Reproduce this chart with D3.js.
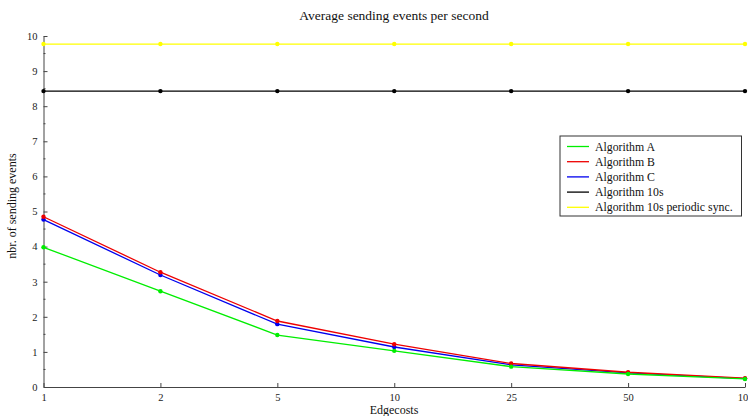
<!DOCTYPE html>
<html>
  <head>
    <meta charset="utf-8">
    <title>Average sending events per second</title>
    <script src="https://d3js.org/d3.v7.min.js"></script>
    <style>
      body { margin: 0; background: #fff; }
      svg, svg text { font-family: "Liberation Serif", "Times New Roman", serif; }
      .axis text { font-size: 10.5px; fill: #222; }
      .axis path, .axis line { stroke: #444; }
    </style>
  </head>
  <body>
    <svg id="chart" width="748" height="416"></svg>
    <script>
      // data
      edgecosts = ["1", "2", "5", "10", "25", "50", "100"];
      algA = [3.98, 2.73, 1.48, 1.03, 0.58, 0.37, 0.23];
      algB = [4.85, 3.27, 1.88, 1.22, 0.67, 0.42, 0.25];
      algC = [4.77, 3.19, 1.79, 1.14, 0.63, 0.40, 0.24];
      alg10s = [8.43, 8.43, 8.43, 8.43, 8.43, 8.43, 8.43];
      alg10sSync = [9.77, 9.77, 9.77, 9.77, 9.77, 9.77, 9.77];
      yTicks = [0, 1, 2, 3, 4, 5, 6, 7, 8, 9, 10];

      series = [
        { name: "Algorithm A", values: algA, color: "#00ee00" },
        { name: "Algorithm B", values: algB, color: "#ee0000" },
        { name: "Algorithm C", values: algC, color: "#0000ee" },
        { name: "Algorithm 10s", values: alg10s, color: "#000000" },
        { name: "Algorithm 10s periodic sync.", values: alg10sSync, color: "#ffff00" }
      ];

      chart = d3.select("#chart");
      margin = { top: 36, right: 3, bottom: 29, left: 43.5 };
      width = 748;
      height = 416;

      x = d3.scalePoint()
        .domain(edgecosts)
        .range([margin.left, width - margin.right]);
      y = d3.scaleLinear()
        .domain([0, 10])
        .range([height - margin.bottom, margin.top]);

      // minor ticks at half units
      minor = chart.append("g");
      minor.selectAll("line")
        .data(d3.range(0.5, 10, 1))
        .enter().append("line")
          .attr("x1", margin.left)
          .attr("x2", margin.left + 2)
          .attr("y1", function(d) { return y(d); })
          .attr("y2", function(d) { return y(d); })
          .attr("stroke", "#444");

      xAxis = d3.axisBottom(x)
        .tickSizeInner(-4)
        .tickSizeOuter(0)
        .tickPadding(7);
      yAxis = d3.axisLeft(y)
        .tickValues(yTicks)
        .tickSizeInner(-4)
        .tickSizeOuter(0)
        .tickPadding(6);

      chart.append("g")
        .attr("class", "axis")
        .attr("transform", "translate(0," + y(0) + ")")
        .call(xAxis)
        .attr("font-family", null);
      chart.append("g")
        .attr("class", "axis")
        .attr("transform", "translate(" + margin.left + ",0)")
        .call(yAxis)
        .attr("font-family", null);

      line = d3.line()
        .x(function(d, i) { return x(edgecosts[i]); })
        .y(function(d) { return y(d); });

      // draw from back to front: flat lines first
      series.slice().reverse().forEach(function(s) {
        chart.append("path")
          .attr("d", line(s.values))
          .attr("fill", "none")
          .attr("stroke", s.color)
          .attr("stroke-width", 1.3);
        chart.append("g").selectAll("circle")
          .data(s.values)
          .enter().append("circle")
            .attr("cx", function(d, i) { return x(edgecosts[i]); })
            .attr("cy", function(d) { return y(d); })
            .attr("r", 2.2)
            .attr("fill", s.color);
      });

      // title and labels
      chart.append("text")
        .attr("x", 394)
        .attr("y", 20)
        .attr("text-anchor", "middle")
        .attr("font-size", 13.5)
        .attr("fill", "#111")
        .text("Average sending events per second");
      chart.append("text")
        .attr("x", 394)
        .attr("y", 414)
        .attr("text-anchor", "middle")
        .attr("font-size", 12)
        .attr("fill", "#111")
        .text("Edgecosts");
      chart.append("text")
        .attr("transform", "translate(16,206) rotate(-90)")
        .attr("text-anchor", "middle")
        .attr("font-size", 12)
        .attr("fill", "#111")
        .text("nbr. of sending events");

      // legend
      legend = chart.append("g").attr("transform", "translate(560,136)");
      legend.append("rect")
        .attr("width", 181.5)
        .attr("height", 80)
        .attr("fill", "#fff")
        .attr("stroke", "#333");
      entries = legend.selectAll(".entry")
        .data(series)
        .enter().append("g")
          .attr("transform", function(d, i) { return "translate(0," + (10.5 + i * 15.2) + ")"; });
      entries.append("line")
        .attr("x1", 7)
        .attr("x2", 29)
        .attr("stroke", function(d) { return d.color; })
        .attr("stroke-width", 1.3);
      entries.append("text")
        .attr("x", 35)
        .attr("y", 4)
        .attr("font-size", 11.8)
        .attr("fill", "#111")
        .text(function(d) { return d.name; });
    </script>
  </body>
</html>
